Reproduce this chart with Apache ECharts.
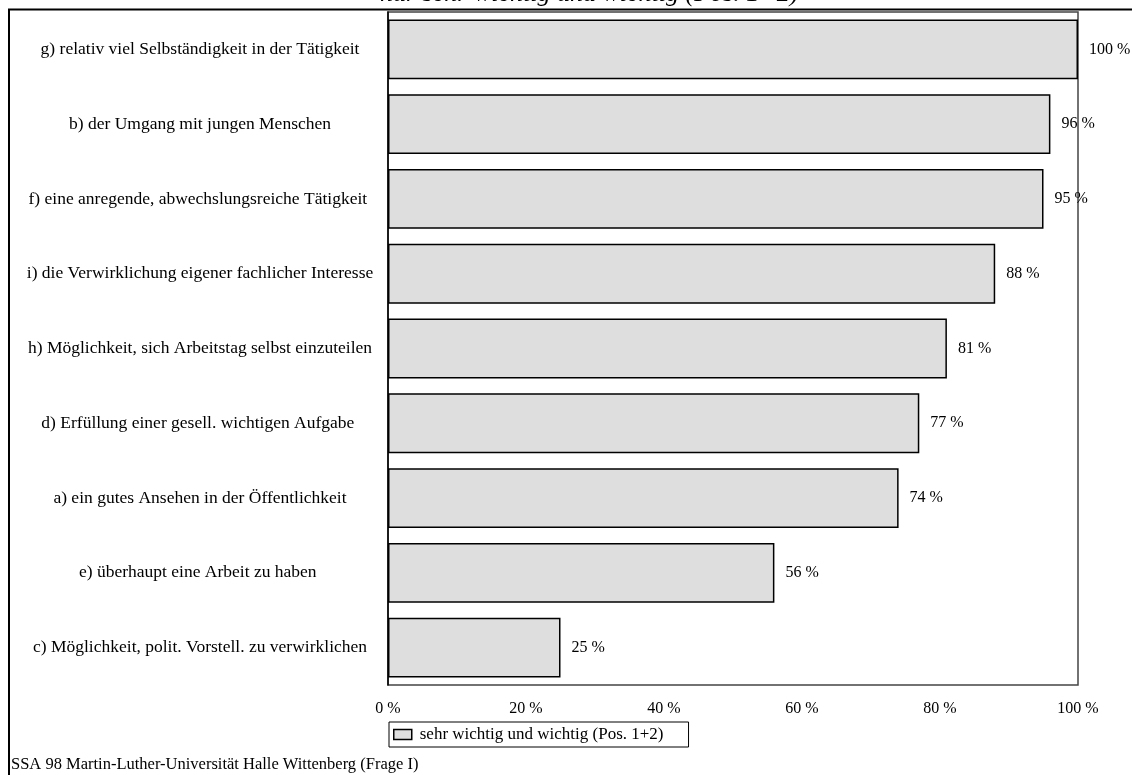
<!DOCTYPE html>
<html>
<head>
<meta charset="utf-8">
<script src="https://cdn.jsdelivr.net/npm/echarts@6/dist/echarts.min.js"></script>
<style>html,body{margin:0;padding:0;background:#fff;}#c{width:1132px;height:775px;}</style>
</head>
<body>
<div id="c"></div>
<script>
const titleText = 'nur sehr wichtig und wichtig (Pos. 1+2)';
const seriesName = 'sehr wichtig und wichtig (Pos. 1+2)';
const footerText = 'SSA 98 Martin-Luther-Universität Halle Wittenberg (Frage I)';
const categories = [
  'g) relativ viel Selbständigkeit in der Tätigkeit',
  'b) der Umgang mit jungen Menschen',
  'f) eine anregende, abwechslungsreiche Tätigkeit ',
  'i) die Verwirklichung eigener fachlicher Interesse',
  'h) Möglichkeit, sich Arbeitstag selbst einzuteilen',
  'd) Erfüllung einer gesell. wichtigen Aufgabe ',
  'a) ein gutes Ansehen in der Öffentlichkeit',
  'e) überhaupt eine Arbeit zu haben ',
  'c) Möglichkeit, polit. Vorstell. zu verwirklichen'
];
const values = [100, 96, 95, 88, 81, 77, 74, 56, 25];
const xTicks = [0, 20, 40, 60, 80, 100];

const font = 'Liberation Serif, Times New Roman, serif';
const chart = echarts.init(document.getElementById('c'));
chart.setOption({
  animation: false,
  backgroundColor: '#fff',
  title: {
    text: titleText, left: 375, top: -23.5,
    textStyle: {fontFamily: font, fontSize: 26, fontStyle: 'italic', fontWeight: 'normal', color: '#000'}
  },
  grid: {left: 388, right: 54, top: 12, bottom: 90, show: true, borderColor: '#444', borderWidth: 1.5, backgroundColor: 'transparent'},
  legend: {
    top: 722, left: 389, data: [seriesName],
    icon: 'rect',
    itemWidth: 18, itemHeight: 10, itemGap: 8,
    padding: [4, 25, 4, 4],
    borderColor: '#000', borderWidth: 1, borderRadius: 0,
    textStyle: {fontFamily: font, fontSize: 17, color: '#000', padding: [0, 0, 0, 3]},
    itemStyle: {borderColor: '#000', borderWidth: 1.5}
  },
  xAxis: {
    type: 'value', min: 0, max: 100, interval: 20,
    axisLine: {show: false}, axisTick: {show: false}, splitLine: {show: false},
    axisLabel: {margin: 16, fontFamily: font, fontSize: 16, color: '#000', formatter: v => xTicks.includes(v) ? v + ' %' : ''}
  },
  yAxis: {
    type: 'category', data: categories, inverse: true,
    axisLine: {show: true, lineStyle: {color: '#000', width: 1.5}}, axisTick: {show: false},
    axisLabel: {margin: 188, align: 'center', fontFamily: font, fontSize: 17.5, color: '#000'}
  },
  series: [{
    name: seriesName, type: 'bar', data: values, barCategoryGap: '20%',
    itemStyle: {color: '#dedede', borderColor: '#000', borderWidth: 1.5},
    label: {show: true, position: 'right', distance: 11, fontFamily: font, fontSize: 16, color: '#000', formatter: p => p.value + ' %'}
  }],
  graphic: [
    {type: 'line', shape: {x1: 8, y1: 9.5, x2: 1132, y2: 9.5}, style: {stroke: '#000', lineWidth: 2}},
    {type: 'line', shape: {x1: 9, y1: 9, x2: 9, y2: 775}, style: {stroke: '#000', lineWidth: 2}},
    {type: 'text', left: 11, top: 756, style: {text: footerText, font: '16.5px ' + font, fill: '#000'}}
  ]
});
</script>
</body>
</html>
